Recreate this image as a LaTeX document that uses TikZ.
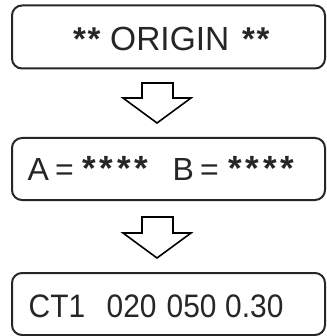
\documentclass[tikz,border=0pt]{standalone}
\usepackage{fontspec}
\setmainfont{Liberation Sans}
\newfontfamily\narrowfont[FakeStretch=0.92]{Liberation Sans}
\newcommand{\stA}{\hbox to 14.5pt{\hss\bfseries\fontsize{33}{33}\selectfont *\hss}}
\newcommand{\stB}{\hbox to 17.5pt{\hss\bfseries\fontsize{35}{35}\selectfont *\hss}}
\begin{document}
\begin{tikzpicture}[x=1pt,y=-1pt,
  panel/.style={draw=black!85,line width=2pt,rounded corners=10pt},
  bigarrow/.style={draw=black,line width=1.6pt,fill=white,line join=miter},
  lbl/.style={inner sep=0pt,text=black!85,anchor=base west},
  fA/.style={font=\fontsize{33.5}{36}\selectfont},
  fB/.style={font=\fontsize{32}{36}\selectfont},
  fC/.style={font=\narrowfont\fontsize{32.5}{36}\selectfont}]
\useasboundingbox (0,0) rectangle (326,336);
\node[panel,minimum width=313pt,minimum height=63pt] (b1) at (168.5,37) {};
\node[panel,minimum width=313pt,minimum height=62pt] (b2) at (168.5,169) {};
\node[panel,minimum width=313pt,minimum height=62pt] (b3) at (168.5,304) {};
% box 1
\node[lbl,fA] (s1) at (72,51) {\stA\stA};
\node[lbl,fA] (t1) at (110,51) {ORIGIN};
\node[lbl,fA] (s2) at (241,51) {\stA\stA};
% box 2
\node[lbl,fB] (a) at (27.5,180) {A};
\node[lbl,fB] (e1) at (55,180) {=};
\node[lbl,fB] (s3) at (80,180) {\stB\stB\stB\stB};
\node[lbl,fB] (bb) at (172.5,180) {B};
\node[lbl,fB] (e2) at (200,180) {=};
\node[lbl,fB] (s4) at (226,180) {\stB\stB\stB\stB};
% box 3
\node[lbl,fC] (c1) at (28.5,317.5) {CT1};
\node[lbl,fC] (c2) at (106.5,317.5) {020};
\node[lbl,fC] (c3) at (166.5,317.5) {050};
\node[lbl,fC] (c4) at (225,317.5) {0.30};
% arrows
\draw[bigarrow] (142,83) -- (173,83) -- (173,98) -- (191,98) -- (157,123) -- (123,98) -- (142,98) -- cycle;
\draw[bigarrow] (142,217) -- (173,217) -- (173,233) -- (191,233) -- (157,258) -- (123,233) -- (142,233) -- cycle;
\end{tikzpicture}
\end{document}
